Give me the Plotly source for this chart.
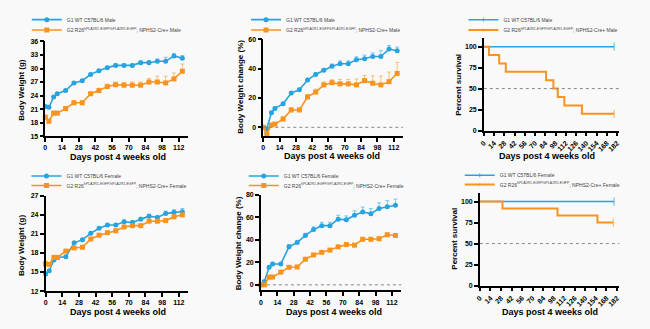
import plotly.graph_objects as go

# ---- data -------------------------------------------------------------
days = [0, 3, 7, 10, 17, 24, 31, 38, 45, 52, 59, 66, 73, 80, 87, 94, 101, 108, 115]

male_wt_g1 = [21.6, 21.4, 23.7, 24.4, 25.1, 26.8, 27.3, 28.7, 29.5, 30.2, 30.7, 30.7, 30.7, 31.3, 31.3, 31.6, 31.6, 32.8, 32.3]
male_wt_g1_err = [0.3, 0.3, 0.3, 0.3, 0.3, 0.3, 0.3, 0.3, 0.3, 0.3, 0.4, 0.4, 0.4, 0.4, 0.5, 0.5, 0.9, 0.5, 0.6]
male_wt_g2 = [19.2, 18.3, 20.1, 20.1, 21.1, 22.4, 22.4, 24.4, 25.1, 26.0, 26.4, 26.3, 26.3, 26.3, 27.0, 27.0, 26.8, 27.7, 29.4]
male_wt_g2_err = [0.4, 0.4, 0.4, 0.4, 0.4, 0.4, 0.4, 0.4, 0.5, 0.5, 0.6, 0.6, 0.7, 0.7, 0.8, 1.3, 1.5, 1.3, 1.6]

male_pct_g1 = [0, -1, 10, 12.9, 16, 23.3, 25.6, 32.2, 36, 38.9, 41.6, 43.3, 43.3, 46, 46.7, 48.2, 48.2, 53.3, 52.2]
male_pct_g1_err = [0.5, 1, 1, 1, 1, 1, 1.2, 1.2, 1.3, 1.3, 1.5, 2, 2, 2, 2.5, 2.5, 4, 2.5, 2.5]
male_pct_g2 = [0, -4.5, 1.6, 2.2, 5.6, 11.8, 11.8, 20.7, 24, 28.9, 30.4, 29.6, 29.6, 28.9, 31.8, 30, 28.9, 31.1, 36.7]
male_pct_g2_err = [0.5, 1, 1, 1, 1.5, 1.5, 1.5, 1.5, 2, 2, 2, 3, 3, 4, 3.5, 5, 6, 6.5, 7.5]

female_wt_g1 = [14.7, 15.2, 16.9, 17.3, 17.4, 19.6, 20.1, 21.1, 21.9, 22.4, 22.4, 22.9, 22.8, 23.3, 23.8, 23.6, 24.2, 24.4, 24.5]
female_wt_g1_err = [0.2, 0.2, 0.2, 0.2, 0.2, 0.2, 0.2, 0.2, 0.2, 0.2, 0.2, 0.3, 0.3, 0.3, 0.3, 0.3, 0.4, 0.4, 0.5]
female_wt_g2 = [16.3, 16.2, 17.3, 17.3, 18.3, 18.8, 18.9, 20.2, 20.8, 21.2, 21.5, 22.1, 22.3, 22.3, 23.0, 23.0, 23.1, 23.7, 24.0]
female_wt_g2_err = [0.2, 0.2, 0.2, 0.2, 0.2, 0.2, 0.2, 0.2, 0.2, 0.2, 0.2, 0.2, 0.2, 0.2, 0.3, 0.3, 0.3, 0.3, 0.3]

female_pct_g1 = [0, 2.9, 15.6, 18.5, 18.5, 33.8, 37.6, 43.9, 49.1, 52.6, 52.6, 58.4, 57.8, 61.8, 64.7, 63.3, 67.9, 69.4, 70.8]
female_pct_g1_err = [0.5, 1, 1.5, 1.5, 1.5, 2, 2, 2, 2.5, 3, 3, 3.5, 3.5, 4, 4.5, 4.5, 5, 5.5, 5.5]
female_pct_g2 = [0, 0, 6.9, 6.9, 11.3, 15.6, 15.9, 22.8, 26.6, 28.9, 30.9, 33.8, 35.8, 35.3, 40.5, 40.5, 41, 44.5, 43.9]
female_pct_g2_err = [0.5, 0.8, 1, 1, 1, 1, 1, 1.2, 1.2, 1.2, 1.3, 1.3, 1.3, 1.5, 1.5, 1.5, 1.5, 1.5, 1.5]

male_surv_g1_days = [0, 178]
male_surv_g1 = [100, 100]
male_surv_g2_days = [0, 7, 21, 30, 85, 95, 101, 110, 134, 178]
male_surv_g2 = [100, 90, 80, 70, 60, 50, 40, 30, 20, 20]

female_surv_g1_days = [0, 178]
female_surv_g1 = [100, 100]
female_surv_g2_days = [0, 30, 103, 156, 177]
female_surv_g2 = [100, 91.7, 83.3, 75, 75]

g1_male = "G1 WT C57BL/6 Male"
g2_male = "G2 R26<sup>hPLA2R1-EGFP/hPLA2R1-EGFP</sup>; NPHS2-Cre+ Male"
g1_female = "G1 WT C57BL/6 Female"
g2_female = "G2 R26<sup>hPLA2R1-EGFP/hPLA2R1-EGFP</sup>; NPHS2-Cre+ Female"

weight_xticks = list(range(0, 113, 14))
surv_xticks = list(range(0, 183, 14))

# ---- style ------------------------------------------------------------
BLUE = "#27a3df"
ORANGE = "#f7931e"
BG = "#f9f9f9"
FONT = "Liberation Sans"
W, H = 650, 329

fig = go.Figure()


def px_dom_x(a, b):
    return [a / W, b / W]


def px_dom_y(top, bottom):
    return [1 - bottom / H, 1 - top / H]


# panel geometry (pixels): x-left, x-right, y-top, y-bottom
panels = {
    1: (40.7, 185, 38.3, 135),
    2: (260.7, 401.7, 36, 135),
    3: (483.3, 620, 35, 129.3),
    4: (41, 185, 196, 293.3),
    5: (258.3, 400, 195, 292.7),
    6: (479.3, 620, 193.3, 287.7),
}

legend_rows = {
    # panel: (text-left px, row1 y px, row2 y px)
    1: (62, 16, 26.5),
    2: (283.3, 16, 26.5),
    3: (502.7, 16, 26.5),
    4: (61.7, 175.7, 185.5),
    5: (281, 175.7, 185.5),
    6: (499, 175, 184.5),
}


def rgba(hexc, a):
    hexc = hexc.lstrip("#")
    r, g, b = int(hexc[0:2], 16), int(hexc[2:4], 16), int(hexc[4:6], 16)
    return f"rgba({r},{g},{b},{a})"


def legend_name(panel, row):
    idx = (panel - 1) * 2 + row
    return "legend" if idx == 1 else f"legend{idx}"


def add_series(panel, x, y, err, color, symbol, name, row):
    ax = "" if panel == 1 else str(panel)
    fig.add_trace(go.Scatter(
        x=x, y=y, name=name, mode="lines+markers",
        xaxis="x" + ax, yaxis="y" + ax,
        line=dict(color=color, width=1.6),
        marker=dict(color=color, symbol=symbol, size=5),
        error_y=dict(type="data", symmetric=False, array=err,
                     arrayminus=[0] * len(err), color=rgba(color, 0.55),
                     thickness=1, width=2),
        cliponaxis=False, showlegend=True,
        legend=legend_name(panel, row),
    ))


def add_surv(panel, x, y, color, name, row, width):
    ax = "" if panel == 1 else str(panel)
    sizes = [0] * (len(x) - 1) + [6]
    fig.add_trace(go.Scatter(
        x=x, y=y, name=name, mode="lines+markers",
        xaxis="x" + ax, yaxis="y" + ax,
        line=dict(color=color, width=width, shape="hv"),
        marker=dict(color=color, symbol="line-ns", size=sizes,
                    line=dict(color=color, width=1)),
        cliponaxis=False, showlegend=True,
        legend=legend_name(panel, row),
    ))


add_series(1, days, male_wt_g1, male_wt_g1_err, BLUE, "circle", g1_male, 1)
add_series(1, days, male_wt_g2, male_wt_g2_err, ORANGE, "square", g2_male, 2)
add_series(2, days, male_pct_g1, male_pct_g1_err, BLUE, "circle", g1_male, 1)
add_series(2, days, male_pct_g2, male_pct_g2_err, ORANGE, "square", g2_male, 2)
add_surv(3, male_surv_g1_days, male_surv_g1, BLUE, g1_male, 1, 1.5)
add_surv(3, male_surv_g2_days, male_surv_g2, ORANGE, g2_male, 2, 2)
add_series(4, days, female_wt_g1, female_wt_g1_err, BLUE, "circle", g1_female, 1)
add_series(4, days, female_wt_g2, female_wt_g2_err, ORANGE, "square", g2_female, 2)
add_series(5, days, female_pct_g1, female_pct_g1_err, BLUE, "circle", g1_female, 1)
add_series(5, days, female_pct_g2, female_pct_g2_err, ORANGE, "square", g2_female, 2)
add_surv(6, female_surv_g1_days, female_surv_g1, BLUE, g1_female, 1, 1.5)
add_surv(6, female_surv_g2_days, female_surv_g2, ORANGE, g2_female, 2, 2)

axis_common = dict(
    showline=True, linecolor="black", linewidth=1.5, mirror=False,
    ticks="outside", ticklen=4, tickwidth=1.5, tickcolor="black",
    showgrid=False, zeroline=False,
    tickfont=dict(family=FONT, size=7, color="black", weight="bold"),
)

yranges = {1: [15, 36], 2: [-6, 60], 3: [0, 110], 4: [12, 27], 5: [-5, 80], 6: [0, 110]}
yticks = {1: list(range(15, 37, 3)), 2: [0, 20, 40, 60], 3: [0, 25, 50, 75, 100],
          4: list(range(12, 28, 3)), 5: [0, 20, 40, 60, 80], 6: [0, 25, 50, 75, 100]}

layout = {}
for p, (xl, xr, yt, yb) in panels.items():
    ax = "" if p == 1 else str(p)
    surv = p in (3, 6)
    layout["xaxis" + ax] = dict(
        axis_common, domain=px_dom_x(xl, xr), anchor="y" + ax,
        range=[0, 185] if surv else [0, 120],
        tickmode="array", tickvals=surv_xticks if surv else weight_xticks,
        tickangle=-45 if surv else 0,
    )
    layout["yaxis" + ax] = dict(
        axis_common, domain=px_dom_y(yt, yb), anchor="x" + ax,
        range=yranges[p], tickmode="array", tickvals=yticks[p],
    )

# legends, one per entry so row spacing stays compact
for p, (tx, r1, r2) in legend_rows.items():
    for row, ry in ((1, r1), (2, r2)):
        layout[legend_name(p, row)] = dict(
            x=(tx - 40) / W, xanchor="left",
            y=1 - ry / H, yanchor="middle",
            bgcolor="rgba(0,0,0,0)", borderwidth=0,
            font=dict(family=FONT, size=5, color="#444"),
            itemwidth=30, visible=True,
        )

# reference lines: 0 % change and 50 % survival
shapes = []
for p, yv in ((2, 0), (5, 0), (3, 50), (6, 50)):
    ax = "" if p == 1 else str(p)
    shapes.append(dict(type="line", xref=f"x{ax} domain", yref="y" + ax,
                       x0=0, x1=1, y0=yv, y1=yv,
                       line=dict(color="#888", width=1, dash="dot")))

# axis titles
xtitle = "Days post 4 weeks old"
title_pos = {
    1: ((113.8, 156), (16.7, 88), "Body Weight (g)"),
    2: ((330, 155.7), (237.7, 85), "Body Weight change (%)"),
    3: ((547, 155.7), (457.7, 82), "Percent survival"),
    4: ((113.7, 315), (16.5, 246), "Body Weight (g)"),
    5: ((331.7, 315), (235.7, 245), "Body Weight change (%)"),
    6: ((550.5, 315), (454, 240), "Percent survival"),
}
annotations = []
for p, ((xx, xy), (yx, yy), ytxt) in title_pos.items():
    annotations.append(dict(
        text=xtitle, xref="paper", yref="paper", x=xx / W, y=1 - xy / H,
        xanchor="center", yanchor="middle", showarrow=False,
        font=dict(family=FONT, size=9, color="black", weight="bold"),
    ))
    annotations.append(dict(
        text=ytxt, xref="paper", yref="paper", x=yx / W, y=1 - yy / H,
        xanchor="center", yanchor="middle", showarrow=False, textangle=-90,
        font=dict(family=FONT, size=8, color="black", weight="bold"),
    ))

fig.update_layout(
    width=W, height=H, margin=dict(l=0, r=0, t=0, b=0),
    paper_bgcolor=BG, plot_bgcolor=BG, showlegend=True,
    shapes=shapes, annotations=annotations,
    **layout,
)

fig.write_html("out.html")
